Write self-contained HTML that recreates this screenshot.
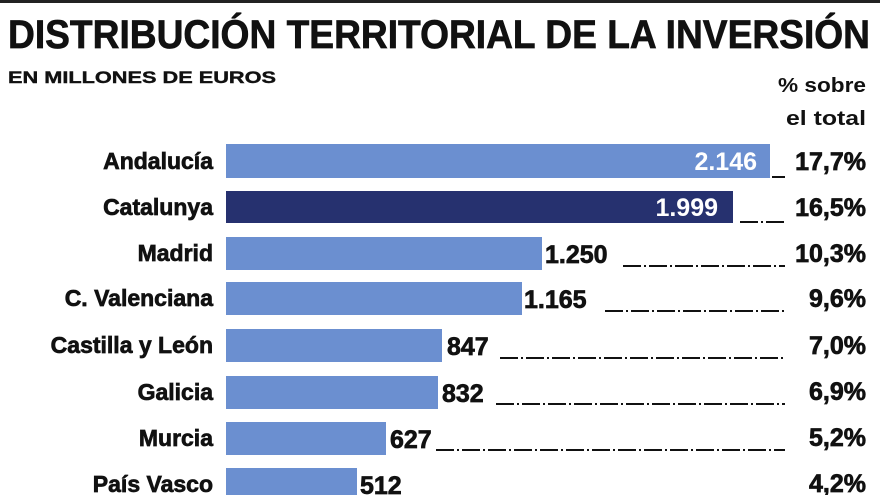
<!DOCTYPE html>
<html><head><meta charset="utf-8"><style>
html,body{margin:0;padding:0;background:#fff;}
svg{display:block;}
text{font-family:"Liberation Sans",sans-serif;font-weight:bold;}
.s{stroke:#111;stroke-width:0.7;}
</style></head><body>
<svg width="880" height="495" viewBox="0 0 880 495">
<rect x="0" y="0" width="880" height="3" fill="#222"/>
<text class="s" x="8" y="48" font-size="40" textLength="862" lengthAdjust="spacingAndGlyphs" fill="#111">DISTRIBUCIÓN TERRITORIAL DE LA INVERSIÓN</text>
<text class="s" x="8" y="83" font-size="17" textLength="268" lengthAdjust="spacingAndGlyphs" fill="#111" style="stroke-width:0.4">EN MILLONES DE EUROS</text>
<text x="866" y="92" font-size="20" text-anchor="end" textLength="88" lengthAdjust="spacingAndGlyphs" fill="#111">% sobre</text>
<text x="866" y="125" font-size="20" text-anchor="end" textLength="80" lengthAdjust="spacingAndGlyphs" fill="#111">el total</text>
<g font-size="23" fill="#111">
<rect x="226" y="144" width="544" height="34" fill="#6b8fd0"/>
<text class="s" x="213" y="169" text-anchor="end">Andalucía</text>
<text x="757" y="170" text-anchor="end" fill="#fff" font-weight="normal" font-size="25">2.146</text>
<line x1="772" y1="177" x2="785" y2="177" stroke="#111" stroke-width="2"/>
<text class="s" x="866" y="170" text-anchor="end" font-size="25">17,7%</text>

<rect x="226" y="191" width="507" height="32" fill="#26316f"/>
<text class="s" x="213" y="215" text-anchor="end">Catalunya</text>
<text x="718" y="216" text-anchor="end" fill="#fff" font-weight="normal" font-size="25">1.999</text>
<line x1="740" y1="222" x2="785" y2="222" stroke="#111" stroke-width="2" stroke-dasharray="18,3,2,3"/>
<text class="s" x="866" y="216" text-anchor="end" font-size="25">16,5%</text>

<rect x="226" y="237" width="316" height="33" fill="#6b8fd0"/>
<text class="s" x="213" y="261" text-anchor="end">Madrid</text>
<text class="s" x="545" y="263" font-size="25">1.250</text>
<line x1="623" y1="266" x2="785" y2="266" stroke="#111" stroke-width="2" stroke-dasharray="18,3,2,3"/>
<text class="s" x="866" y="262" text-anchor="end" font-size="25">10,3%</text>

<rect x="226" y="282" width="296" height="33" fill="#6b8fd0"/>
<text class="s" x="213" y="306" text-anchor="end">C. Valenciana</text>
<text class="s" x="524" y="308" font-size="25">1.165</text>
<line x1="605" y1="311" x2="785" y2="311" stroke="#111" stroke-width="2" stroke-dasharray="18,3,2,3"/>
<text class="s" x="866" y="307" text-anchor="end" font-size="25">9,6%</text>

<rect x="226" y="329" width="216" height="33" fill="#6b8fd0"/>
<text class="s" x="213" y="353" text-anchor="end">Castilla y León</text>
<text class="s" x="447" y="355" font-size="25">847</text>
<line x1="500" y1="358" x2="785" y2="358" stroke="#111" stroke-width="2" stroke-dasharray="18,3,2,3"/>
<text class="s" x="866" y="354" text-anchor="end" font-size="25">7,0%</text>

<rect x="226" y="376" width="212" height="33" fill="#6b8fd0"/>
<text class="s" x="213" y="400" text-anchor="end">Galicia</text>
<text class="s" x="442" y="402" font-size="25">832</text>
<line x1="496" y1="404" x2="785" y2="404" stroke="#111" stroke-width="2" stroke-dasharray="18,3,2,3"/>
<text class="s" x="866" y="400" text-anchor="end" font-size="25">6,9%</text>

<rect x="226" y="422" width="160" height="33" fill="#6b8fd0"/>
<text class="s" x="213" y="446" text-anchor="end">Murcia</text>
<text class="s" x="390" y="448" font-size="25">627</text>
<line x1="436" y1="450" x2="785" y2="450" stroke="#111" stroke-width="2" stroke-dasharray="18,3,2,3"/>
<text class="s" x="866" y="446" text-anchor="end" font-size="25">5,2%</text>

<rect x="226" y="468" width="131" height="33" fill="#6b8fd0"/>
<text class="s" x="213" y="492" text-anchor="end">País Vasco</text>
<text class="s" x="360" y="494" font-size="25">512</text>
<line x1="422" y1="496" x2="785" y2="496" stroke="#111" stroke-width="2" stroke-dasharray="18,3,2,3"/>
<text class="s" x="866" y="492" text-anchor="end" font-size="25">4,2%</text>
</g>
</svg>
</body></html>
